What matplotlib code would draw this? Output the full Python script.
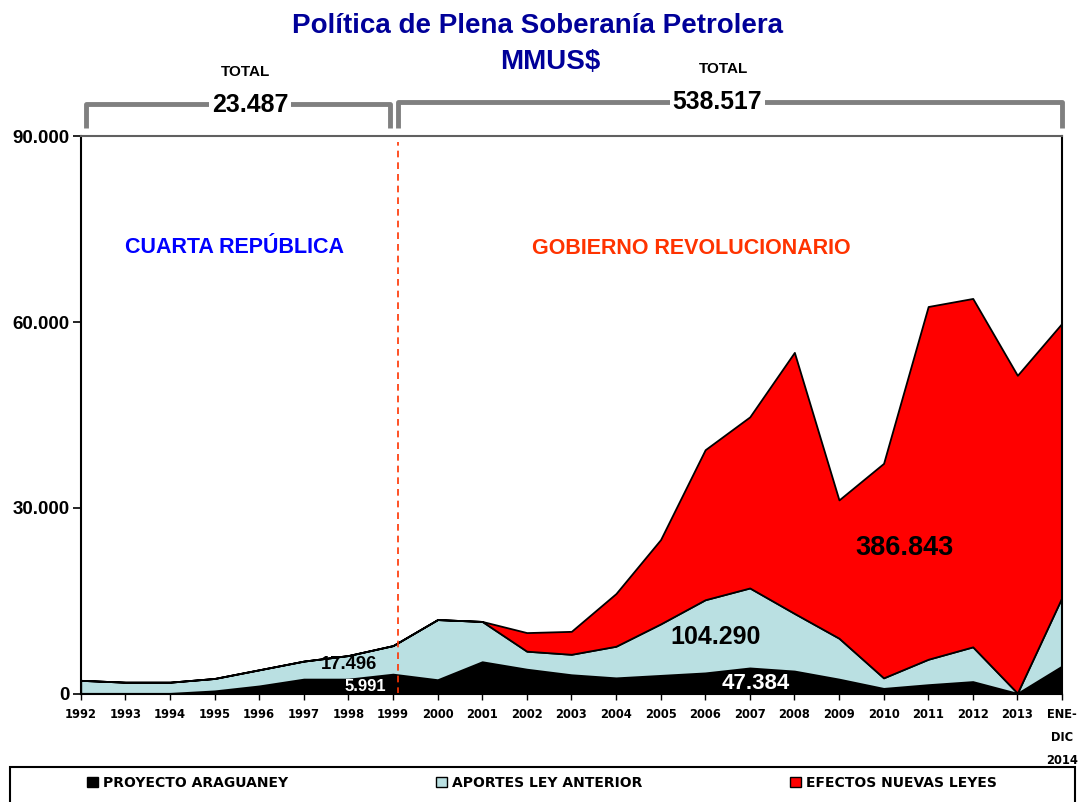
import numpy as np
import matplotlib.pyplot as plt
from matplotlib.patches import Patch, Rectangle
from matplotlib.ticker import FuncFormatter

# Values in MMUS$
years = ['1992', '1993', '1994', '1995', '1996', '1997', '1998', '1999',
         '2000', '2001', '2002', '2003', '2004', '2005', '2006', '2007',
         '2008', '2009', '2010', '2011', '2012', '2013', 'ENE-\nDIC\n2014']
araguaney = [100, 100, 100, 500, 1300, 2400, 2400, 3200,
             2300, 5200, 4000, 3100, 2600, 3000, 3400, 4200,
             3700, 2400, 900, 1500, 2000, 100, 4500]
aportes = [2100, 1800, 1800, 2000, 2600, 2900, 3800, 4600,
           9700, 6500, 2900, 3300, 5100, 8300, 11800, 12900,
           9300, 6600, 1700, 4100, 5600, 50, 11100]
nuevas_leyes = [0, 0, 0, 0, 0, 0, 0, 0,
                0, 0, 3000, 3700, 8500, 13600, 24200, 27600,
                42100, 22300, 34600, 56900, 56200, 51250, 44200]
series_names = ['PROYECTO ARAGUANEY', 'APORTES LEY ANTERIOR', 'EFECTOS NUEVAS LEYES']
series_colors = ['#000000', '#BAE0E2', '#FF0000']

sans = ['Liberation Sans', 'DejaVu Sans']
navy = '#000099'

fig = plt.figure(figsize=(10.81, 8.02), dpi=100)

# legend box (drawn first, behind everything)
fig.patches.append(Rectangle((10 / 1081, -0.01), 1065 / 1081, 1 - 767 / 802 + 0.01,
                             transform=fig.transFigure, facecolor='white', edgecolor='black',
                             linewidth=1.5, zorder=-5))

ax = fig.add_axes([0.0747, 0.1347, 0.9077, 0.6957])
ax.patch.set_alpha(0)

x = np.arange(len(years))
ax.stackplot(x, araguaney, aportes, nuevas_leyes, colors=series_colors,
             edgecolor='black', linewidth=1.3)

ax.set_xlim(0, len(years) - 1)
ax.set_ylim(0, 90000)
ax.set_yticks([0, 30000, 60000, 90000])
ax.yaxis.set_major_formatter(FuncFormatter(lambda v, p: f'{int(v):,}'.replace(',', '.')))
ax.set_xticks(x)
ax.set_xticklabels(years)
ax.tick_params(axis='y', direction='out', length=6, width=1.2, pad=2)
ax.tick_params(axis='x', direction='out', length=4, width=1.0, pad=6)
for lab in ax.get_yticklabels():
    lab.set_fontfamily(sans)
    lab.set_fontweight('bold')
    lab.set_fontsize(13.5)
for lab in ax.get_xticklabels():
    lab.set_fontfamily('DejaVu Sans')
    lab.set_fontweight('bold')
    lab.set_fontsize(8.3)
    lab.set_linespacing(2.0)

for side in ['left', 'bottom', 'right']:
    ax.spines[side].set_color('black')
    ax.spines[side].set_linewidth(1.5)
ax.spines['top'].set_color('#606060')
ax.spines['top'].set_linewidth(1.5)

# divider between the two periods
ax.axvline(7.11, ymin=0, ymax=0.99, color='#FF3300', linestyle=(0, (4, 3)), linewidth=1.2)

# period labels
ax.text(3.44, 72000, 'CUARTA REPÚBLICA', color='#0000FF', fontsize=15.5, fontweight='bold',
        family=sans, ha='center', va='center')
ax.text(13.7, 71800, 'GOBIERNO REVOLUCIONARIO', color='#FF3300', fontsize=15.5, fontweight='bold',
        family=sans, ha='center', va='center')

# totals inside the areas
ax.text(6.02, 4700, '17.496', color='black', fontsize=13.3, fontweight='bold', family=sans,
        ha='center', va='center')
ax.text(6.37, 1200, '5.991', color='white', fontsize=12, fontweight='bold', family=sans,
        ha='center', va='center')
ax.text(14.24, 9200, '104.290', color='black', fontsize=18, fontweight='bold', family=sans,
        ha='center', va='center')
ax.text(15.14, 1700, '47.384', color='white', fontsize=16, fontweight='bold', family=sans,
        ha='center', va='center')
ax.text(18.46, 23500, '386.843', color='black', fontsize=19.5, fontweight='bold', family=sans,
        ha='center', va='center')

# brackets above the plot
br = dict(color='#808080', linewidth=3.5, clip_on=False, solid_capstyle='butt')
ax.plot([0.12, 0.12, 6.94, 6.94], [91300, 95200, 95200, 91300], **br)
ax.plot([7.12, 7.12, 22.0, 22.0], [91300, 95500, 95500, 91300], **br)
ax.text(3.8, 95000, '23.487', fontsize=18, fontweight='bold', family=sans, ha='center',
        va='center', bbox=dict(facecolor='white', edgecolor='none', pad=2))
ax.text(14.27, 95500, '538.517', fontsize=17.8, fontweight='bold', family=sans, ha='center',
        va='center', bbox=dict(facecolor='white', edgecolor='none', pad=2))
ax.text(3.7, 100300, 'TOTAL', fontsize=11, fontweight='bold', family=sans, ha='center', va='center')
ax.text(14.4, 100800, 'TOTAL', fontsize=11, fontweight='bold', family=sans, ha='center', va='center')

# title
fig.text(537 / 1081, 1 - 26 / 802, 'Política de Plena Soberanía Petrolera', color=navy,
         fontsize=20, fontweight='bold', family=sans, ha='center', va='center')
fig.text(550 / 1081, 1 - 62 / 802, 'MMUS$', color=navy, fontsize=20, fontweight='bold',
         family=sans, ha='center', va='center')

handles = [Patch(facecolor=c, edgecolor='black', linewidth=1.0) for c in series_colors]
leg = fig.legend(handles, series_names, loc='center left',
                 bbox_to_anchor=(74 / 1081, 1 - 783 / 802), ncol=3, frameon=False,
                 prop={'family': 'DejaVu Sans', 'weight': 'bold', 'size': 10},
                 handlelength=0.8, handleheight=0.8, handletextpad=0.4, columnspacing=10.6)

fig.savefig('out.png', dpi=100)
